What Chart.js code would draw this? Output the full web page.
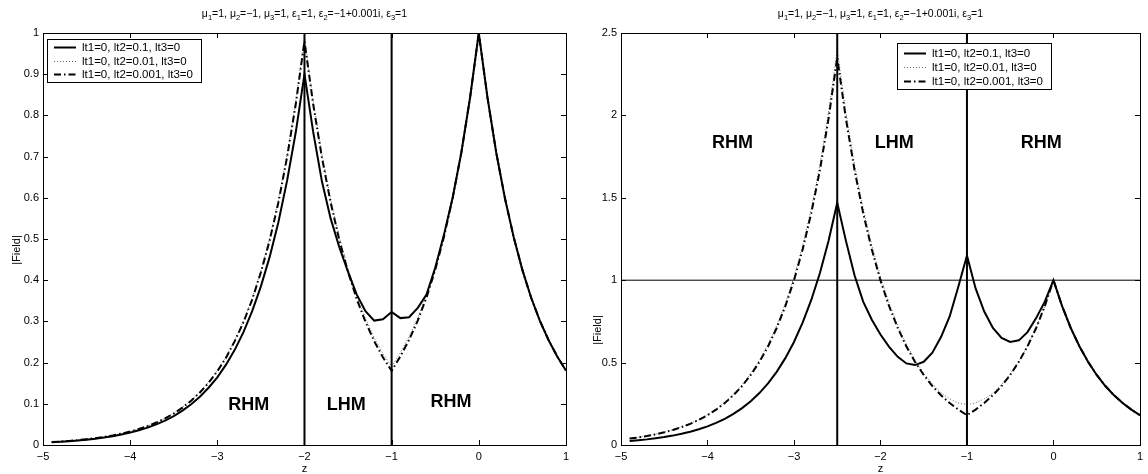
<!DOCTYPE html>
<html>
<head>
<meta charset="utf-8">
<script src="https://cdn.jsdelivr.net/npm/chart.js@4.4.1/dist/chart.umd.min.js"></script>
<style>
html,body{margin:0;padding:0;background:#fff;}
#wrap{position:relative;width:1148px;height:474px;}
.caixa{position:absolute;top:0;width:574px;height:474px;}
</style>
</head>
<body>
<div id="wrap">
<div class="caixa" style="left:0"><canvas id="graficoEsq" width="574" height="474"></canvas></div>
<div class="caixa" style="left:574px"><canvas id="graficoDir" width="574" height="474"></canvas></div>
</div>
<script>
const z = [-4.9,-4.8,-4.7,-4.6,-4.5,-4.4,-4.3,-4.2,-4.1,-4.0,-3.9,-3.8,-3.7,-3.6,-3.5,-3.4,-3.3,-3.2,-3.1,-3.0,
-2.9,-2.8,-2.7,-2.6,-2.5,-2.4,-2.3,-2.2,-2.1,-2.0,-1.9,-1.8,-1.7,-1.6,-1.5,-1.4,-1.3,-1.2,-1.1,-1.0,
-0.9,-0.8,-0.7,-0.6,-0.5,-0.4,-0.3,-0.2,-0.1,0,0.1,0.2,0.3,0.4,0.5,0.6,0.7,0.8,0.9,1.0]

// painel esquerdo
const esqSolida = [0.0065,0.0077,0.0092,0.0108,0.0129,0.0152,0.018,0.0214,0.0254,0.030,0.0356,0.0422,0.050,0.0593,0.0703,0.0833,0.0987,0.117,0.139,0.164,
0.195,0.231,0.274,0.325,0.385,0.456,0.540,0.641,0.759,0.90,0.76,0.64,0.55,0.48,0.42,0.365,0.325,0.302,0.305,0.323,
0.308,0.31,0.333,0.365,0.43,0.51,0.60,0.71,0.843,1.0,0.843,0.71,0.599,0.505,0.425,0.358,0.302,0.255,0.215,0.181]
const esqPontilhada = [0.0072,0.0085,0.0101,0.0119,0.0141,0.0168,0.0198,0.0235,0.0279,0.033,0.0392,0.0465,0.055,0.0652,0.0773,0.0916,0.1086,0.1287,0.1525,0.181,
0.214,0.255,0.301,0.357,0.423,0.501,0.594,0.705,0.835,0.99,0.836,0.706,0.597,0.505,0.428,0.362,0.307,0.26,0.222,0.19,
0.224,0.263,0.309,0.364,0.43,0.509,0.602,0.712,0.844,1.0,0.843,0.71,0.599,0.505,0.425,0.358,0.302,0.255,0.215,0.181]
const esqTracoPonto = [0.0071,0.0084,0.010,0.0118,0.014,0.0166,0.0196,0.0233,0.0276,0.0327,0.0388,0.046,0.0545,0.0646,0.0765,0.0907,0.1075,0.1274,0.151,0.179,
0.212,0.252,0.298,0.353,0.419,0.496,0.588,0.698,0.827,0.98,0.827,0.698,0.589,0.497,0.42,0.354,0.299,0.252,0.213,0.180,
0.215,0.255,0.302,0.358,0.425,0.505,0.599,0.71,0.843,1.0,0.843,0.71,0.599,0.505,0.425,0.358,0.302,0.255,0.215,0.181]

// painel direito
const dirSolida = [0.0243,0.0288,0.0341,0.0406,0.0481,0.057,0.0678,0.0803,0.0953,0.113,0.134,0.159,0.189,0.224,0.266,0.315,0.374,0.444,0.527,0.625,
0.742,0.88,1.044,1.239,1.47,1.24,1.03,0.87,0.76,0.67,0.595,0.535,0.495,0.485,0.505,0.56,0.655,0.78,0.96,1.15,
0.95,0.81,0.71,0.65,0.625,0.635,0.685,0.77,0.87,1.0,0.843,0.71,0.599,0.505,0.425,0.358,0.302,0.255,0.215,0.181]
const dirPontilhada = [0.040,0.047,0.0556,0.0662,0.0783,0.093,0.1105,0.131,0.1553,0.184,0.219,0.26,0.308,0.365,0.434,0.514,0.61,0.724,0.859,1.019,
1.21,1.435,1.702,2.02,2.40,2.02,1.70,1.435,1.21,1.02,0.86,0.725,0.61,0.515,0.435,0.37,0.318,0.28,0.255,0.245,
0.255,0.28,0.315,0.365,0.43,0.508,0.601,0.711,0.843,1.0,0.843,0.71,0.599,0.505,0.425,0.358,0.302,0.255,0.215,0.181]
const dirTracoPonto = [0.039,0.046,0.0545,0.0649,0.0768,0.0912,0.1083,0.1283,0.1523,0.1807,0.2146,0.2545,0.302,0.358,0.425,0.504,0.598,0.71,0.842,0.999,
1.186,1.407,1.669,1.981,2.35,1.981,1.669,1.407,1.186,0.999,0.842,0.71,0.598,0.504,0.425,0.358,0.302,0.2545,0.2146,0.181,
0.215,0.255,0.302,0.358,0.425,0.505,0.599,0.71,0.843,1.0,0.843,0.71,0.599,0.505,0.425,0.358,0.302,0.255,0.215,0.181]

const rotulos = ['lt1=0, lt2=0.1, lt3=0','lt1=0, lt2=0.01, lt3=0','lt1=0, lt2=0.001, lt3=0']
const ticksX = [-5,-4,-3,-2,-1,0,1]
const ticksYEsq = [0,0.1,0.2,0.3,0.4,0.5,0.6,0.7,0.8,0.9,1]
const ticksYDir = [0,0.5,1,1.5,2,2.5]
const limitesEsq = [-2,-1]
const limitesDir = [-2.5,-1]
const niveisDir = [1]
const regioes = ['RHM','LHM','RHM']
const titulo = 'μ_1=1, μ_2=−1, μ_3=1, ε_1=1, ε_2=−1+0.001i, ε_3=1'

const fonte = '"Liberation Sans", Arial, Helvetica, sans-serif'
const estilos = [
{borderColor:'#000', borderWidth:2, borderDash:[], order:3},
{borderColor:'rgba(0,0,0,0.6)', borderWidth:1, borderDash:[1,2], order:2},
{borderColor:'#000', borderWidth:2, borderDash:[7,3,1.5,3], order:1}
]

const pontos=(vals)=>z.map((v,i)=>({x:v,y:vals[i]}))
const fmt=(v)=>String(+Number(v).toFixed(2)).replace('-','\u2212')

const extras = {
id:'extras',
afterDatasetsDraw(chart, args, o){
const {ctx, chartArea:a, scales:{x, y}} = chart
ctx.save()
ctx.strokeStyle='#000'
ctx.lineWidth=1
ctx.setLineDash([])
ctx.beginPath()
x.ticks.forEach(t=>{
const px=Math.round(x.getPixelForValue(t.value))+0.5
ctx.moveTo(px,a.bottom); ctx.lineTo(px,a.bottom-5)
ctx.moveTo(px,a.top); ctx.lineTo(px,a.top+5)
})
y.ticks.forEach(t=>{
const py=Math.round(y.getPixelForValue(t.value))+0.5
ctx.moveTo(a.left,py); ctx.lineTo(a.left+5,py)
ctx.moveTo(a.right,py); ctx.lineTo(a.right-5,py)
})
ctx.stroke()
ctx.strokeRect(Math.round(a.left)+0.5, Math.round(a.top)+0.5, Math.round(a.right-a.left), Math.round(a.bottom-a.top))
ctx.fillStyle='#000'
ctx.font='bold 18px '+fonte
ctx.textAlign='center'
ctx.textBaseline='middle'
regioes.forEach((r,i)=>{
const p=o.regioes[i]
ctx.fillText(r, x.getPixelForValue(p[0]), y.getPixelForValue(p[1]))
})
ctx.restore()
},
afterDraw(chart, args, o){
const {ctx, chartArea:a} = chart
ctx.save()
ctx.fillStyle='#000'
// titulo com subscritos
const partes = titulo.split(/_(\d)/)
const fN='10.5px '+fonte, fS='7.5px '+fonte
let larg=0
partes.forEach((p,i)=>{ctx.font=(i%2)?fS:fN; larg+=ctx.measureText(p).width})
let cx=(a.left+a.right)/2-larg/2
ctx.textAlign='left'
ctx.textBaseline='alphabetic'
partes.forEach((p,i)=>{
ctx.font=(i%2)?fS:fN
ctx.fillText(p, cx, (i%2)?20:17)
cx+=ctx.measureText(p).width
})
// titulos dos eixos
ctx.font='11px '+fonte
ctx.textAlign='center'
ctx.textBaseline='middle'
ctx.fillText('z',(a.left+a.right)/2,469)
ctx.save()
ctx.translate(o.campo[0],o.campo[1])
ctx.rotate(-Math.PI/2)
ctx.fillText('|Field|',0,0)
ctx.restore()
// legenda
const L=o.legenda
ctx.fillStyle='#fff'
ctx.fillRect(L.x,L.y,L.w,L.h)
ctx.strokeStyle='#000'
ctx.lineWidth=1
ctx.strokeRect(L.x+0.5,L.y+0.5,L.w,L.h)
chart.data.datasets.slice(0,3).forEach((ds,i)=>{
const yy=L.y+L.linhas[i]+0.5
ctx.strokeStyle=ds.borderColor
ctx.lineWidth=ds.borderWidth
ctx.setLineDash(ds.borderDash)
ctx.beginPath(); ctx.moveTo(L.x+7,yy); ctx.lineTo(L.x+29,yy); ctx.stroke()
ctx.setLineDash([])
ctx.fillStyle='#000'
ctx.font='11.5px '+fonte
ctx.textAlign='left'
ctx.fillText(ds.label,L.x+35,yy)
})
ctx.restore()
}
}

function montar(canvasId, series, ticksY, limites, niveis, ymax, larguraY, padDir, opExtras){
const conjuntos = series.map((s,i)=>Object.assign({label:rotulos[i], data:pontos(s), pointRadius:0, tension:0, fill:false}, estilos[i]))
limites.forEach(b=>conjuntos.push({label:'', data:[{x:b,y:0},{x:b,y:ymax}], borderColor:'#000', borderWidth:2, pointRadius:0, order:4}))
niveis.forEach(n=>conjuntos.push({label:'', data:[{x:-5,y:n},{x:1,y:n}], borderColor:'#000', borderWidth:1, pointRadius:0, order:4}))
return new Chart(document.getElementById(canvasId), {
type:'line',
data:{datasets:conjuntos},
options:{
responsive:false,
animation:false,
events:[],
layout:{padding:{top:33, right:padDir, bottom:0, left:0}},
scales:{
x:{type:'linear', min:-5, max:1,
afterBuildTicks:s=>{s.ticks=ticksX.map(v=>({value:v}))},
afterFit:s=>{s.height=29},
grid:{display:false, drawTicks:false}, border:{display:false},
ticks:{padding:5, color:'#000', font:{size:11, family:fonte}, callback:fmt, maxRotation:0, autoSkip:false}},
y:{type:'linear', min:0, max:ymax,
afterBuildTicks:s=>{s.ticks=ticksY.map(v=>({value:v}))},
afterFit:s=>{s.width=larguraY},
grid:{display:false, drawTicks:false}, border:{display:false},
ticks:{padding:4, color:'#000', font:{size:11, family:fonte}, callback:fmt, autoSkip:false}}
},
plugins:{legend:{display:false}, tooltip:{enabled:false}, title:{display:false}, extras:opExtras}
},
plugins:[extras]
})
}

const graficoEsq = montar('graficoEsq', [esqSolida, esqPontilhada, esqTracoPonto], ticksYEsq, limitesEsq, [], 1, 43, 7, {
regioes:[[-2.64,0.097],[-1.52,0.097],[-0.32,0.104]],
campo:[17,250],
legenda:{x:47, y:39, w:154, h:43, linhas:[8,22,35]}
})
const graficoDir = montar('graficoDir', [dirSolida, dirPontilhada, dirTracoPonto], ticksYDir, limitesDir, niveisDir, 2.5, 47, 4, {
regioes:[[-3.71,1.83],[-1.84,1.83],[-0.14,1.83]],
campo:[24,330],
legenda:{x:323, y:43, w:154, h:46, linhas:[10,24,38]}
})
</script>
</body>
</html>
